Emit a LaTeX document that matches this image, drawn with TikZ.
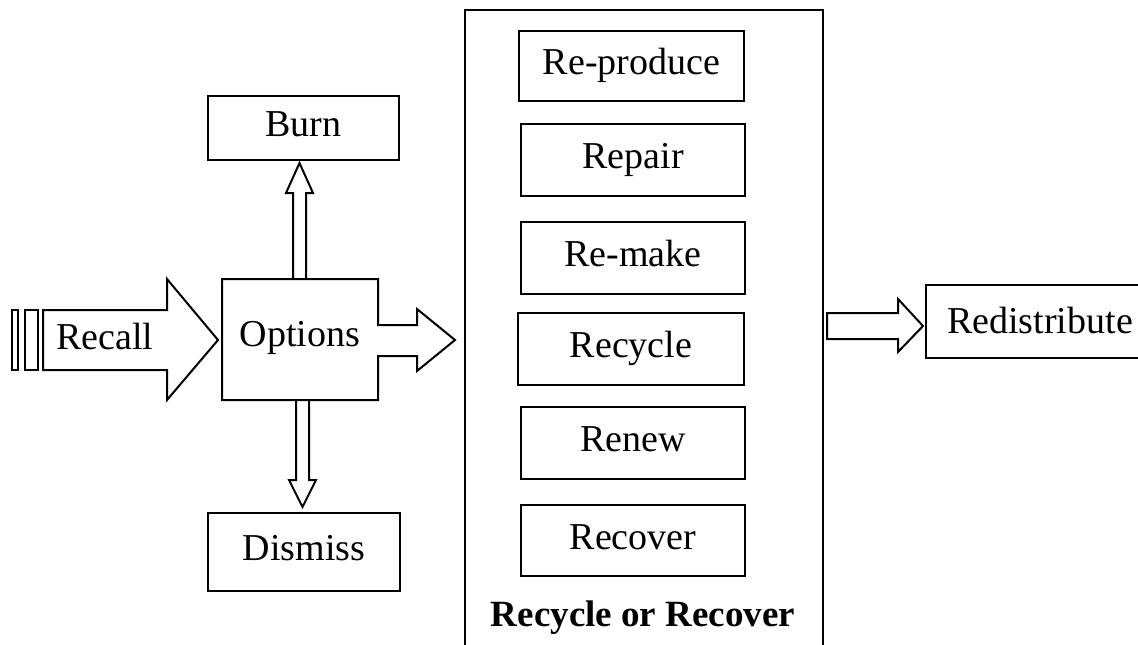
\documentclass[tikz,border=0pt]{standalone}
\usepackage{fontspec}
\setmainfont{Liberation Serif}
\begin{document}
\begin{tikzpicture}[x=1pt,y=-1pt, line width=2pt, line join=miter,
  box/.style={draw, rectangle, inner sep=0pt, font=\fontsize{38}{40}\selectfont, text height=26.6pt, text depth=9.5pt},
  lbl/.style={inner sep=0pt, font=\fontsize{38}{40}\selectfont, text height=26.6pt, text depth=9.5pt}]
\useasboundingbox (0,0) rectangle (1138,645);

% outer container (open at the bottom)
\draw (465,650) -- (465,10) -- (823,10) -- (823,650);
\node[lbl, font=\bfseries\fontsize{37}{40}\selectfont] (rrlabel) at (643,617.5) {Recycle or Recover};

% inner boxes
\node[box, minimum width=225pt, minimum height=70pt] (reproduce) at (631.5,66) {Re-produce};
\node[box, minimum width=224pt, minimum height=72pt] (repair) at (633,160) {Repair};
\node[box, minimum width=224pt, minimum height=72pt] (remake) at (633,258) {Re-make};
\node[box, minimum width=226pt, minimum height=72pt] (recycle) at (631,349) {Recycle};
\node[box, minimum width=224pt, minimum height=72pt] (renew) at (633,443) {Renew};
\node[box, minimum width=224pt, minimum height=71pt] (recover) at (633,540.5) {Recover};

% burn / dismiss
\node[box, minimum width=191pt, minimum height=64pt] (burn) at (303.5,128) {Burn};
\node[box, minimum width=192pt, minimum height=78pt] (dismiss) at (304,552) {Dismiss};

% redistribute (right side runs off the page)
\node[box, minimum width=224pt, minimum height=73pt] (redistribute) at (1038,321.5) {};
\node[lbl] (redisttext) at (1040,324.5) {Redistribute};

% options box with merged right arrow
\draw (222,279) -- (378,279) -- (378,325) -- (417,325) -- (417,309) -- (455,340)
      -- (417,371) -- (417,356) -- (378,356) -- (378,400) -- (222,400) -- cycle;
\node[lbl] (options) at (300,337.5) {Options};

% recall arrow and stripes
\draw (43,310) -- (167,310) -- (167,279) -- (218,340) -- (167,400) -- (167,370) -- (43,370) -- cycle;
\draw (12,310) rectangle (18,370);
\draw (25,310) rectangle (38,370);
\node[lbl] (recall) at (105,340.5) {Recall};

% up arrow to Burn
\draw (293,279) -- (293,193) -- (286,193) -- (299.5,163) -- (313,193) -- (306,193) -- (306,279);
% down arrow to Dismiss
\draw (296,400) -- (296,480) -- (289,480) -- (302.5,507) -- (316,480) -- (309,480) -- (309,400);
% arrow to Redistribute
\draw (827,313) -- (898,313) -- (898,299) -- (923,326) -- (898,352) -- (898,339) -- (827,339) -- cycle;
\end{tikzpicture}
\end{document}
